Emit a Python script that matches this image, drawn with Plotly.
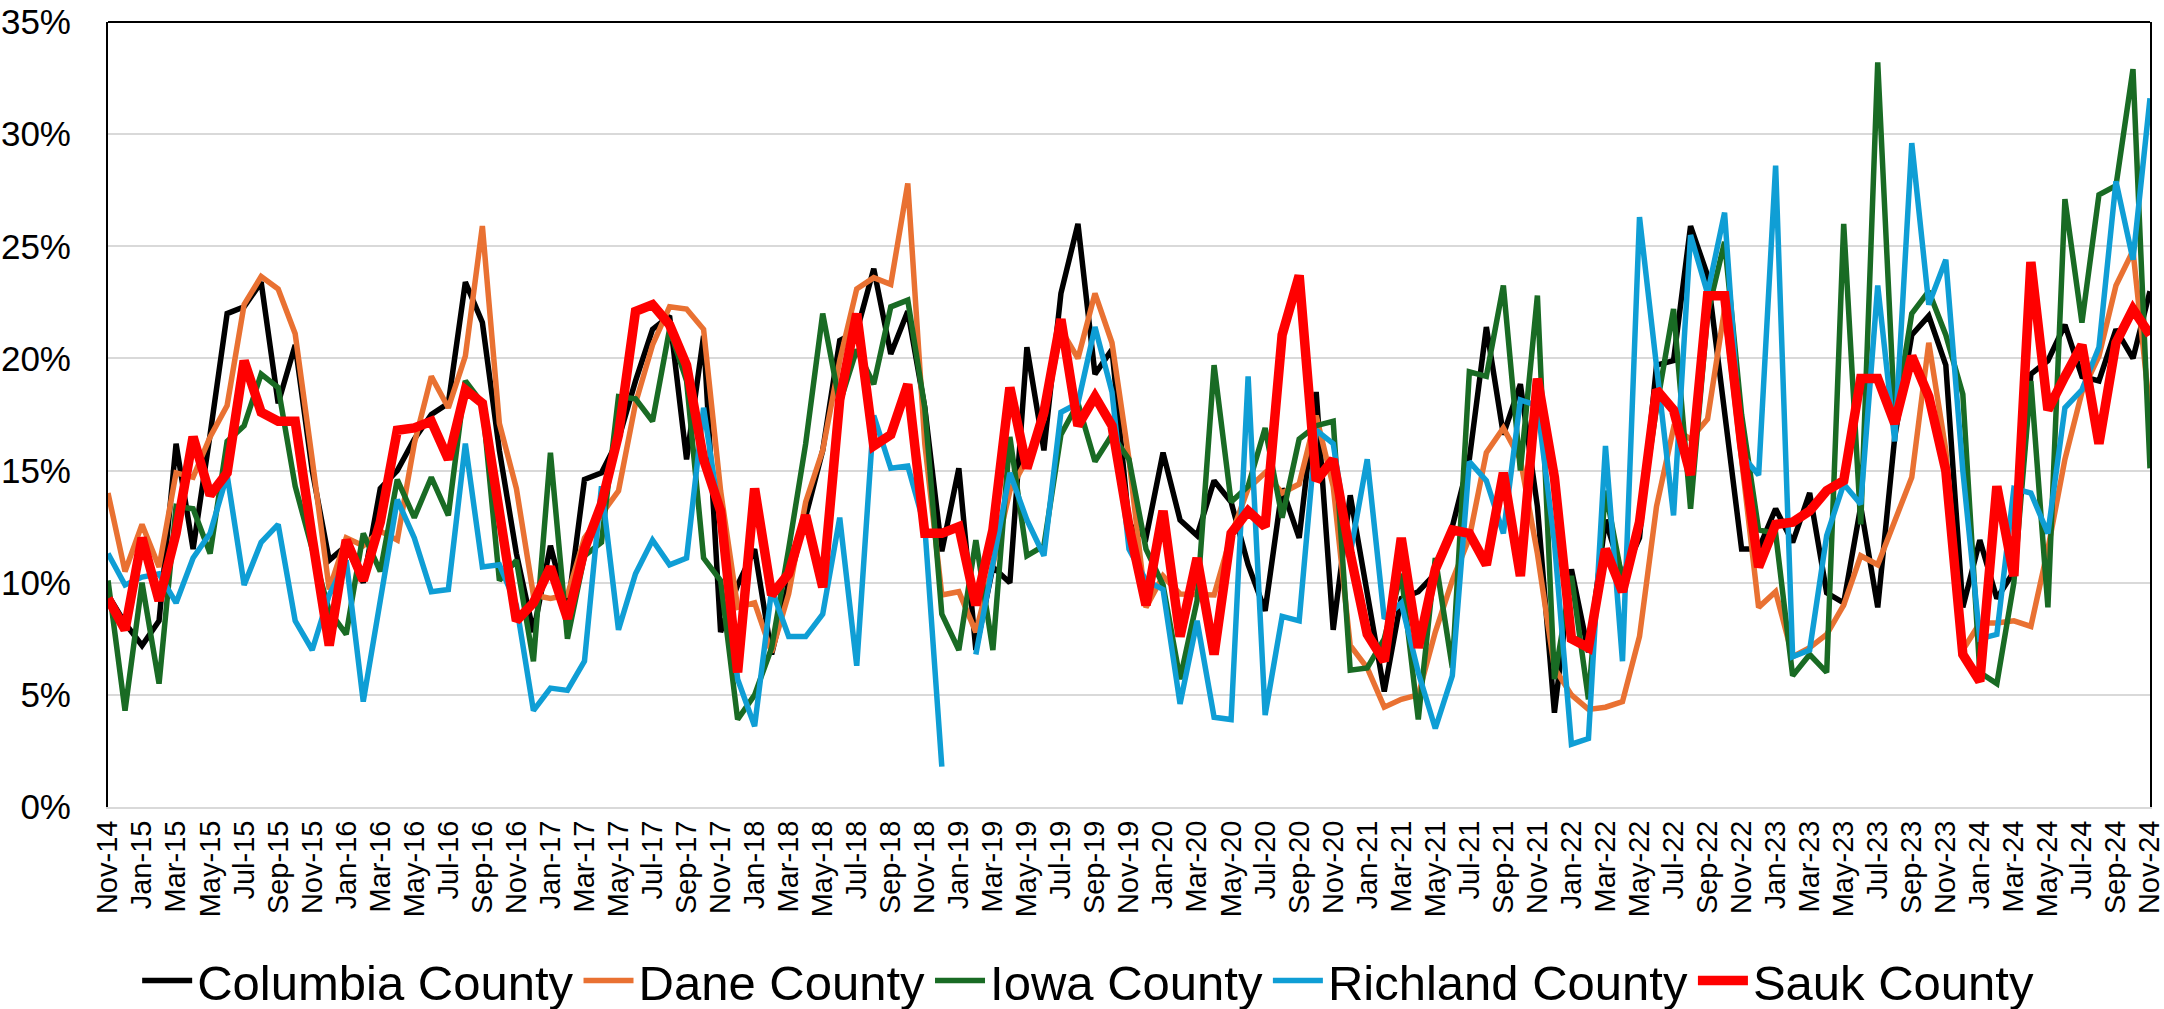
import pandas as pd
import plotly.graph_objects as go

months = pd.date_range("2014-11-01", "2024-11-01", freq="MS").strftime("%b-%y").tolist()
tick_labels = months[::2]

columbia = [9.45, 8.2, 7.2, 8.3, 16.2, 11.5, 16.6, 22.0, 22.3, 23.4, 18.0, 20.6, 15.0, 11.0, 11.65, 10.0, 14.2, 15.0, 16.4, 17.5,
            18.0, 23.4, 21.6, 15.9, 11.3, 7.8, 11.65, 8.75, 14.6, 14.9, 16.4, 19.0, 21.3, 21.9, 15.5, 21.0, 7.8, 9.9, 11.5, 6.8,
            10.0, 12.9, 15.9, 20.8, 21.2, 24.0, 20.2, 22.1, 17.8, 11.4, 15.1, 7.0, 10.7, 10.0, 20.5, 15.9, 22.9, 26.0, 19.3, 20.4,
            12.6, 12.0, 15.8, 12.8, 12.1, 14.55, 13.6, 10.8, 8.75, 14.2, 12.0, 18.5, 7.9, 13.9, 9.5, 5.15, 9.3, 9.6, 10.4, 12.5,
            15.5, 21.4, 16.6, 18.85, 13.4, 4.2, 10.6, 6.9, 12.8, 10.3, 12.0, 19.7, 19.9, 25.9, 23.7, 17.6, 11.5, 11.5, 13.3, 11.8,
            14.0, 9.55, 9.1, 13.4, 8.9, 16.5, 21.05, 21.9, 19.7, 8.9, 11.9, 9.3, 10.5, 19.3, 19.9, 21.5, 19.2, 19.0, 21.3, 20.0,
            23.0]

dane = [14.0, 10.5, 12.6, 10.7, 14.9, 14.7, 16.5, 17.9, 22.4, 23.65, 23.1, 21.1, 15.5, 9.7, 12.0, 11.65, 12.3, 11.9, 16.2, 19.2,
        17.8, 20.1, 25.9, 17.1, 14.2, 9.45, 9.3, 9.45, 12.0, 13.0, 14.1, 18.0, 20.6, 22.3, 22.2, 21.3, 14.1, 8.9, 9.1, 6.9,
        9.5, 13.6, 15.9, 19.9, 23.1, 23.6, 23.3, 27.8, 16.2, 9.45, 9.6, 7.8, 10.8, 14.1, 15.5, 17.3, 21.3, 20.0, 22.9, 20.7,
        15.5, 8.9, 10.3, 9.5, 9.45, 9.45, 12.1, 14.2, 14.9, 14.0, 14.4, 17.45, 14.3, 7.2, 6.2, 4.45, 4.8, 5.0, 7.8, 10.1,
        12.0, 15.8, 16.9, 15.5, 11.3, 6.2, 5.0, 4.35, 4.45, 4.7, 7.6, 13.4, 16.9, 16.4, 17.3, 22.2, 15.5, 8.9, 9.6, 6.7,
        7.1, 7.7, 9.0, 11.2, 10.8, 12.7, 14.7, 20.7, 15.9, 7.0, 8.2, 8.2, 8.3, 8.05, 11.5, 15.5, 18.5, 20.1, 23.25, 24.8,
        17.6]

iowa = [10.1, 4.3, 10.0, 5.5, 13.4, 13.3, 11.3, 16.3, 17.0, 19.3, 18.7, 14.3, 11.5, 8.75, 7.7, 12.2, 10.5, 14.6, 12.9, 14.7,
        13.0, 19.0, 18.0, 10.1, 11.0, 6.5, 15.8, 7.5, 11.2, 11.8, 18.3, 18.2, 17.2, 21.3, 19.0, 11.1, 10.1, 3.9, 5.0, 7.1,
        11.5, 16.2, 22.0, 18.0, 20.4, 18.85, 22.3, 22.6, 17.8, 8.6, 7.0, 11.9, 7.0, 16.5, 11.2, 11.65, 16.6, 18.0, 15.4, 16.6,
        15.5, 11.5, 9.9, 5.7, 9.2, 19.7, 13.6, 14.3, 16.9, 12.9, 16.4, 17.0, 17.2, 6.1, 6.2, 7.5, 10.4, 3.9, 11.1, 6.2,
        19.4, 19.2, 23.25, 15.0, 22.8, 5.7, 10.3, 4.8, 14.1, 10.1, 12.7, 17.8, 22.2, 13.3, 22.0, 25.2, 17.5, 12.35, 12.2, 5.85,
        6.8, 6.0, 26.0, 12.6, 33.2, 17.3, 22.0, 23.0, 21.05, 18.4, 6.0, 5.5, 10.0, 19.0, 8.9, 27.1, 21.6, 27.3, 27.7, 32.9,
        15.1]

richland = [11.3, 9.9, 10.25, 10.4, 9.1, 11.1, 12.2, 14.8, 9.9, 11.8, 12.6, 8.3, 7.0, 9.45, 11.0, 4.7, 9.2, 13.7, 12.0, 9.6,
            9.7, 16.2, 10.7, 10.8, 9.0, 4.3, 5.3, 5.2, 6.5, 14.3, 7.9, 10.4, 11.9, 10.8, 11.1, 17.8, 12.7, 5.7, 3.6, 9.7,
            7.6, 7.6, 8.6, 12.9, 6.3, 17.45, 15.1, 15.2, 12.5, 1.8, None, 6.8, 10.7, 14.9, 12.8, 11.2, 17.6, 18.0, 21.4, 18.5,
            11.5, 10.1, 9.7, 4.6, 8.3, 4.0, 3.9, 19.2, 4.1, 8.5, 8.3, 16.8, 16.2, 11.3, 15.5, 8.4, 9.1, 6.0, 3.5, 5.85,
            15.4, 14.55, 12.2, 18.15, 17.9, 11.8, 2.8, 3.05, 16.1, 6.5, 26.3, 19.7, 13.0, 25.5, 22.9, 26.5, 15.7, 14.8, 28.6, 6.7,
            7.0, 12.1, 14.4, 13.5, 23.25, 16.3, 29.6, 22.4, 24.4, 15.0, 7.5, 7.7, 14.2, 14.0, 12.2, 17.8, 18.6, 20.5, 27.9, 24.4,
            31.6]

sauk = [9.3, 7.9, 12.0, 9.2, 12.2, 16.5, 13.9, 14.9, 19.9, 17.6, 17.2, 17.2, 12.0, 7.2, 11.9, 10.1, 12.7, 16.8, 16.9, 17.2,
        15.5, 18.6, 18.0, 13.0, 8.3, 9.1, 10.7, 8.4, 11.5, 13.5, 16.6, 22.1, 22.4, 21.5, 19.7, 15.5, 13.2, 6.0, 14.2, 9.45,
        10.4, 13.0, 9.8, 18.15, 22.0, 16.1, 16.6, 18.85, 12.2, 12.2, 12.5, 9.0, 12.35, 18.7, 15.1, 17.6, 21.75, 17.0, 18.3, 17.0,
        12.5, 9.0, 13.2, 7.6, 11.1, 6.8, 12.2, 13.2, 12.5, 21.05, 23.7, 14.55, 15.5, 11.3, 7.7, 6.5, 12.0, 7.1, 10.6, 12.35,
        12.2, 10.8, 14.9, 10.3, 19.1, 14.7, 7.5, 7.1, 11.5, 9.6, 12.7, 18.6, 17.7, 14.8, 22.8, 22.8, 16.2, 10.7, 12.6, 12.7,
        13.2, 14.1, 14.55, 19.1, 19.1, 17.1, 20.1, 18.3, 15.0, 6.8, 5.6, 14.3, 10.3, 24.3, 17.7, 19.2, 20.6, 16.2, 20.7, 22.2,
        21.05]

series = [
    ("Columbia County", columbia, "#000000", 5.5),
    ("Dane County", dane, "#E97132", 5.5),
    ("Iowa County", iowa, "#196B24", 5.5),
    ("Richland County", richland, "#0F9ED5", 5.5),
    ("Sauk County", sauk, "#FF0000", 9.5),
]

FONT = "Liberation Sans, Arial, sans-serif"

fig = go.Figure()
for name, vals, color, w in series:
    fig.add_trace(go.Scatter(
        x=months, y=vals, name=name, mode="lines",
        line=dict(color=color, width=w), connectgaps=False,
    ))

fig.update_layout(
    width=2164, height=1009,
    margin=dict(l=108, r=14, t=22, b=202),
    paper_bgcolor="white", plot_bgcolor="white",
    font=dict(family=FONT, color="black"),
    showlegend=True,
    legend=dict(
        orientation="h", x=0.48, xanchor="center",
        yref="container", y=0.028, yanchor="middle",
        font=dict(size=49, family=FONT, color="black"),
        itemwidth=50, tracegroupgap=0,
    ),
    xaxis=dict(
        type="category", range=[0, len(months) - 1],
        tickmode="array", tickvals=tick_labels, ticktext=tick_labels,
        tickangle=-90, tickfont=dict(size=29, family=FONT, color="black"),
        showgrid=False, showline=True, linecolor="#D9D9D9", linewidth=2,
        ticks="", zeroline=False, automargin=False,
    ),
    yaxis=dict(
        range=[0, 35], dtick=5, ticksuffix="%",
        tickfont=dict(size=35, family=FONT, color="black"),
        showgrid=True, gridcolor="#D9D9D9", gridwidth=2,
        showline=True, mirror=True, linecolor="black", linewidth=2,
        ticks="", zeroline=False, ticklabelstandoff=28, automargin=False,
    ),
)

fig.add_shape(type="line", xref="paper", yref="paper", x0=0, x1=1, y0=1, y1=1,
              line=dict(color="black", width=2))

# remove the browser's default 8px body margin so the figure fills the window exactly
fig.write_html("out.html", config={"displayModeBar": False},
               post_script="document.body.style.margin='0';")
